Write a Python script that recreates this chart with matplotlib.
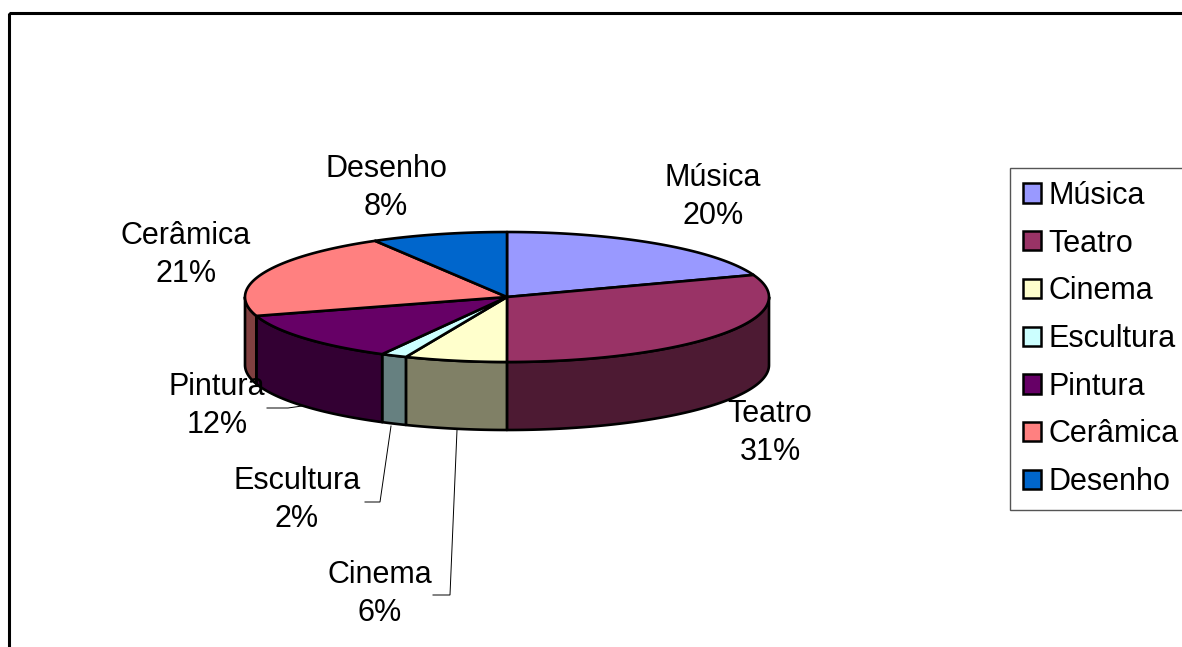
import numpy as np
import matplotlib
matplotlib.use("Agg")
import matplotlib.pyplot as plt
from matplotlib.patches import Polygon, Patch, Rectangle

plt.rcParams["font.family"] = ["Liberation Sans", "DejaVu Sans"]

# data
categories = ["Música", "Teatro", "Cinema", "Escultura", "Pintura", "Cerâmica", "Desenho"]
values = [19.5, 30.51, 6.3, 1.6, 12.4, 21.3, 8.4]
top_colors = ["#9999FF", "#993366", "#FFFFCC", "#CCFFFF", "#660066", "#FF8080", "#0066CC"]
side_colors = ["#4D4D80", "#4D1A33", "#808066", "#668080", "#330033", "#804040", "#003366"]

# pixel layout
W, H = 1182, 647
cx, cy, rx, ry, depth = 507, 297, 262, 65, 68
FS = 22

fig = plt.figure(figsize=(W / 100, H / 100), dpi=100)
ax = fig.add_axes([0, 0, 1, 1])
ax.set_xlim(0, W)
ax.set_ylim(H, 0)
ax.axis("off")

# outer frame, runs off the right and bottom of the picture
ax.add_patch(Rectangle((9, 13), W + 20, H + 20, fill=False, ec="black", lw=2.2))


def rim(a0, a1, dy=0):
    # angles in degrees, clockwise from the top of the ellipse
    t = np.radians(np.linspace(a0, a1, max(int(a1 - a0) * 2, 2)))
    return np.column_stack([cx + rx * np.sin(t), cy - ry * np.cos(t) + dy])


edges = np.concatenate([[0], np.cumsum(values)]) / sum(values) * 360

# side walls, only the front half (90..270) is visible
for i in range(len(values)):
    a0, a1 = max(edges[i], 90), min(edges[i + 1], 270)
    if a1 <= a0:
        continue
    pts = np.vstack([rim(a0, a1), rim(a0, a1, depth)[::-1]])
    ax.add_patch(Polygon(pts, closed=True, fc=side_colors[i], ec="black", lw=1.9, joinstyle="round"))

# top face
for i in range(len(values)):
    pts = np.vstack([[cx, cy], rim(edges[i], edges[i + 1])])
    ax.add_patch(Polygon(pts, closed=True, fc=top_colors[i], ec="black", lw=1.9, joinstyle="round"))

# leader lines
leader_x = [[267, 288, 302], [365, 380, 391], [433, 450, 457]]
leader_y = [[408, 408, 406], [502, 502, 426], [595, 595, 430]]
for lx, ly in zip(leader_x, leader_y):
    ax.plot(lx, ly, color="black", lw=0.7, solid_joinstyle="miter")

# data labels
label_x = [713, 770, 380, 297, 217, 186, 386]
label_y = [197, 433, 594, 500, 406, 255, 188]
for name, v, x, y in zip(categories, values, label_x, label_y):
    ax.text(x, y, f"{name}\n{v:.0f}%", ha="center", va="center", fontsize=FS,
            linespacing=1.39, color="black")

# legend
handles = [Patch(fc=c, ec="black", lw=1.8) for c in top_colors]
leg = ax.legend(handles, categories, loc="upper left", bbox_to_anchor=(1010, 168),
                bbox_transform=ax.transData, borderaxespad=0, fontsize=FS,
                fancybox=False, framealpha=1, edgecolor="#555555",
                handlelength=0.6, handleheight=0.6, handletextpad=0.25,
                labelspacing=0.58, borderpad=0.42, labelcolor="black")
leg.get_frame().set_linewidth(1.0)

fig.savefig("out.png", dpi=100)
